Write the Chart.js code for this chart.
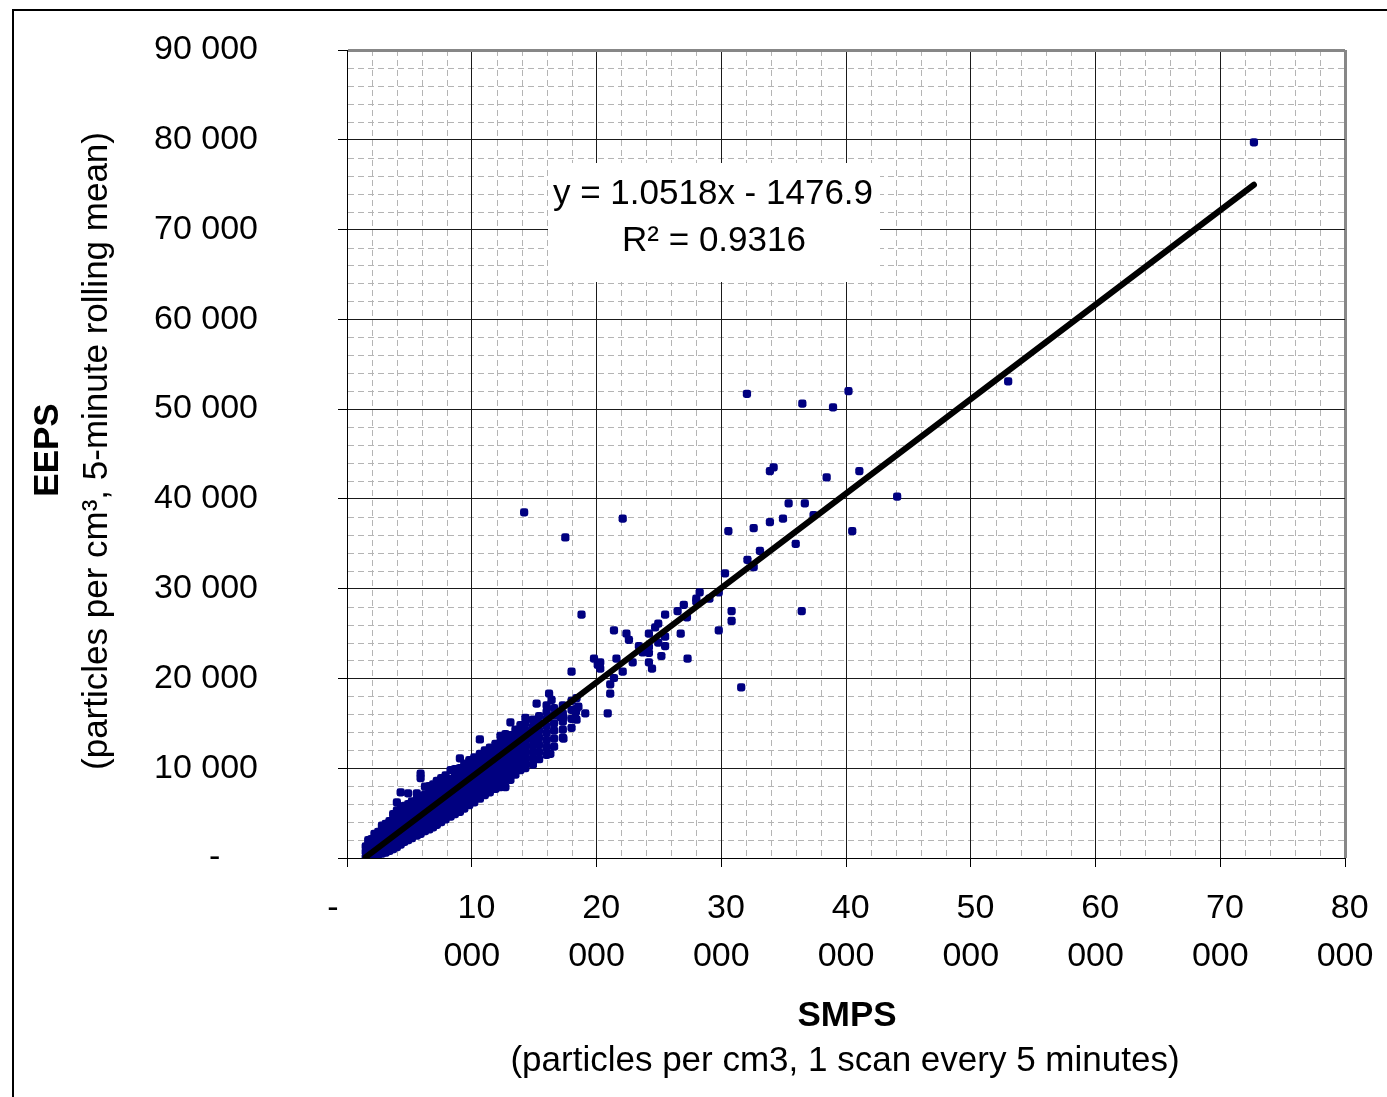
<!DOCTYPE html>
<html>
<head>
<meta charset="utf-8">
<script src="https://cdn.jsdelivr.net/npm/chart.js@4.4.0/dist/chart.umd.min.js"></script>
<style>
  body { margin: 0; background: #fff; }
  #frame { position: absolute; left: 12px; top: 9px; width: 1400px; height: 1100px; border-left: 2px solid #000; border-top: 2px solid #000; }
  #scatter { position: absolute; left: 0; top: 0; }
</style>
</head>
<body>
<div id="frame"></div>
<canvas id="scatter" width="1387" height="1097"></canvas>
<script>
// SMPS vs EEPS number concentration (particles per cm3)
const smps = [
  1500, 1500, 1500,
  1700, 1700, 1700, 1700,
  1950, 1950, 1950, 1950,
  2200, 2200, 2200, 2200, 2200,
  2500, 2500, 2500, 2500, 2500,
  2800, 2800, 2800, 2800, 2800, 2800,
  3100, 3100, 3100, 3100, 3100, 3100,
  3400, 3400, 3400, 3400, 3400, 3400,
  3700, 3700, 3700, 3700, 3700, 3700, 3700,
  4000, 4000, 4000, 4000, 4000, 4000, 4000, 4000,
  4300, 4300, 4300, 4300, 4300, 4300, 4300, 4300,
  4600, 4600, 4600, 4600, 4600, 4600, 4600,
  4900, 4900, 4900, 4900, 4900, 4900, 4900, 4900,
  5200, 5200, 5200, 5200, 5200, 5200, 5200,
  5600, 5600, 5600, 5600, 5600, 5600, 5600, 5600,
  5900, 5900, 5900, 5900, 5900, 5900, 5900, 5900, 5900,
  6250, 6250, 6250, 6250, 6250, 6250, 6250, 6250,
  6600, 6600, 6600, 6600, 6600, 6600, 6600, 6600,
  6900, 6900, 6900, 6900, 6900, 6900, 6900, 6900,
  7200, 7200, 7200, 7200, 7200, 7200, 7200, 7200,
  7550, 7550, 7550, 7550, 7550, 7550, 7550, 7550,
  7900, 7900, 7900, 7900, 7900, 7900, 7900, 7900,
  8300, 8300, 8300, 8300, 8300, 8300, 8300, 8300,
  8650, 8650, 8650, 8650, 8650, 8650, 8650, 8650,
  9050, 9050, 9050, 9050, 9050, 9050, 9050, 9050, 9050,
  9400, 9400, 9400, 9400, 9400, 9400, 9400, 9400,
  9800, 9800, 9800, 9800, 9800, 9800, 9800, 9800,
  10200, 10200, 10200, 10200, 10200, 10200, 10200, 10200,
  10650, 10650, 10650, 10650, 10650, 10650, 10650, 10650, 10650,
  11050, 11050, 11050, 11050, 11050, 11050, 11050, 11050,
  11450, 11450, 11450, 11450, 11450, 11450, 11450, 11450,
  11900, 11900, 11900, 11900, 11900, 11900, 11900, 11900,
  12300, 12300, 12300, 12300, 12300, 12300, 12300, 12300, 12300,
  12700, 12700, 12700, 12700, 12700, 12700, 12700, 12700, 12700,
  13100, 13100, 13100, 13100, 13100, 13100, 13100, 13100, 13100,
  13500, 13500, 13500, 13500, 13500, 13500, 13500, 13500,
  13900, 13900, 13900, 13900, 13900, 13900, 13900, 13900,
  14300, 14300, 14300, 14300, 14300, 14300, 14300, 14300, 14300,
  14900, 14900, 14900, 14900, 14900, 14900, 14900, 14900,
  15400, 15400, 15400, 15400, 15400, 15400, 15400,
  16000, 16000, 16000, 16000, 16000, 16000, 16000, 16000,
  16600, 16600, 16600, 16600, 16600, 16600,
  17300, 17300, 17300, 17300, 17300,
  18000, 18000, 18000, 18000,
  18400, 18400, 18400,
  // scattered readings
  15200, 16200, 16400, 18550, 18000, 18800, 14200,
  17500, 22100, 19800, 20100, 20300, 20300, 20900,
  21100, 21100, 21400, 21400, 21600, 22100, 22400,
  22600, 22900, 23400, 23700, 24200, 24200, 24200,
  24200, 24450, 24700, 24950, 24950, 25200, 25500,
  25500, 25500, 26500, 26750, 27000, 27250, 27300,
  28000, 28000, 28270, 29050, 29800, 29800, 30300,
  30830, 30830, 31600, 30570, 32100, 32600, 32600,
  33100, 33900, 33900, 34200, 34950, 35400, 35970,
  36450, 36700, 37400, 38450, 40500, 41070, 44100,
  32060, 36500, 38960, 40200, 53000, 72700,
  17100, 17350, 18300, 19100, 18350, 16300, 17350
];
const eeps = [
  100, 700, 1300,
  200, 800, 1400, 2000,
  300, 900, 1500, 2100,
  300, 900, 1500, 2100, 2700,
  400, 1000, 1600, 2200, 2900,
  500, 1100, 1700, 2300, 3000, 3600,
  600, 1200, 1800, 2400, 3100, 3800,
  800, 1400, 2000, 2700, 3400, 4100,
  1000, 1600, 2200, 2900, 3600, 4300, 4900,
  1200, 1800, 2400, 3100, 3800, 4500, 5300, 6200,
  1500, 2100, 2700, 3400, 4100, 4800, 5500, 7300,
  1800, 2400, 3000, 3700, 4400, 5100, 5800,
  2000, 2600, 3200, 3900, 4600, 5300, 6000, 7200,
  2200, 2800, 3500, 4200, 4900, 5600, 6300,
  2500, 3100, 3800, 4500, 5200, 5900, 6600, 7200,
  2700, 3300, 4000, 4700, 5400, 6100, 6900, 8900, 9400,
  3000, 3600, 4300, 5000, 5700, 6400, 7100, 7950,
  3200, 3900, 4600, 5300, 6000, 6700, 7400, 8000,
  3400, 4100, 4800, 5500, 6200, 6900, 7600, 8200,
  3700, 4400, 5100, 5800, 6500, 7200, 7900, 8600,
  4000, 4700, 5400, 6100, 6800, 7500, 8200, 8900,
  4300, 5000, 5700, 6400, 7100, 7800, 8500, 9200,
  4600, 5300, 6000, 6700, 7400, 8100, 8800, 9800,
  4900, 5600, 6300, 7000, 7700, 8400, 9100, 9900,
  5150, 5800, 6500, 7200, 7900, 8600, 9300, 10000, 11100,
  5500, 6200, 6900, 7600, 8300, 9000, 9700, 10500,
  5900, 6600, 7300, 8000, 8700, 9400, 10100, 10900,
  6200, 6900, 7600, 8300, 9000, 9700, 10400, 11200,
  6600, 7300, 8000, 8700, 9400, 10100, 10800, 11600, 13200,
  7000, 7700, 8400, 9100, 9800, 10500, 11200, 12000,
  7300, 8000, 8700, 9400, 10100, 10800, 11500, 12300,
  7700, 8400, 9100, 9800, 10500, 11200, 11900, 12700,
  7900, 8600, 9300, 10000, 10700, 11400, 12100, 12900, 13600,
  7900, 8700, 9500, 10200, 10900, 11600, 12300, 13000, 13800,
  8700, 9400, 10100, 10800, 11500, 12200, 12900, 13700, 15100,
  9300, 10000, 10700, 11400, 12100, 12800, 13500, 14300,
  9800, 10500, 11200, 11900, 12600, 13300, 14000, 14800,
  10000, 10700, 11400, 12100, 12800, 13500, 14200, 15000, 15600,
  10400, 11100, 11800, 12500, 13200, 13900, 14600, 15400,
  11000, 11800, 12600, 13400, 14200, 15000, 15800,
  11500, 12300, 13100, 13900, 14700, 15500, 16300, 17000,
  12400, 13300, 14200, 15000, 15900, 16700,
  13400, 14300, 15200, 16100, 17000,
  14500, 15500, 16500, 17500,
  15400, 16600, 17800,
  // scattered readings
  17200, 18300, 17600, 16850, 20750, 27100, 38500,
  35700, 37800, 22200, 21500, 21800, 21100, 16100,
  19350, 18300, 20050, 25350, 22200, 20750, 25000,
  24300, 21800, 23600, 22900, 25000, 23550, 22850,
  21800, 21100, 25700, 26100, 24000, 22500, 27100,
  24650, 23600, 27500, 25000, 28200, 26800, 22200,
  28900, 28550, 29600, 28900, 29600, 25350, 31700,
  27500, 26400, 19000, 36400, 33200, 32400, 36750,
  34200, 37400, 43100, 43500, 37800, 39500, 35000,
  27500, 39500, 38200, 42400, 36400, 43100, 40250,
  51700, 50600, 50200, 52000, 53100, 79700,
  15700, 15700, 15600, 16100, 16300, 11600, 13300
];

// linear fit reported on the chart
const slope = 1.0518;
const intercept = -1476.9;
const rSquared = 0.9316;

const xMax = 80000;
const yMax = 90000;
const majorStep = 10000;
const minorStep = 2000;

const points = smps.map((x, i) => ({ x: x, y: eeps[i] }));
const fitX = [Math.min(...smps), Math.max(...smps)];
const fitLine = fitX.map(x => ({ x: x, y: slope * x + intercept }));

// "10 000" style numbers, a dash for zero
function spaced(v) {
  return String(v).replace(/\B(?=(\d{3})+(?!\d))/g, " ");
}

const font = "'Liberation Sans', Arial, sans-serif";
Chart.defaults.font.family = font;
Chart.defaults.font.size = 34;
Chart.defaults.color = "#000";

// dashed minor grid every 2 000, under the solid major lines
const minorGrid = {
  id: "minorGrid",
  beforeDraw(chart) {
    const { ctx, chartArea: a, scales } = chart;
    ctx.save();
    ctx.strokeStyle = "#b4b4b4";
    ctx.lineWidth = 1;
    ctx.setLineDash([6, 4]);
    for (let v = minorStep; v < xMax; v += minorStep) {
      if (v % majorStep === 0) continue;
      const px = Math.round(scales.x.getPixelForValue(v)) + 0.5;
      ctx.beginPath();
      ctx.moveTo(px, a.top);
      ctx.lineTo(px, a.bottom);
      ctx.stroke();
    }
    for (let v = minorStep; v < yMax; v += minorStep) {
      if (v % majorStep === 0) continue;
      const py = Math.round(scales.y.getPixelForValue(v)) + 0.5;
      ctx.beginPath();
      ctx.moveTo(a.left + 1, py);
      ctx.lineTo(a.right, py);
      ctx.stroke();
    }
    ctx.restore();
  }
};

// white box with the fit equation
const fitLabel = {
  id: "fitLabel",
  beforeDatasetsDraw(chart) {
    const ctx = chart.ctx;
    ctx.save();
    ctx.fillStyle = "#fff";
    ctx.fillRect(548, 163, 332, 119);
    ctx.fillStyle = "#000";
    ctx.font = "35px " + font;
    ctx.textAlign = "center";
    ctx.textBaseline = "middle";
    ctx.fillText("y = " + slope + "x - " + Math.abs(intercept), 713, 194);
    ctx.fillText("R\u00b2 = " + rSquared, 714, 241);
    ctx.restore();
  }
};

// axis titles: bold name, plain units line underneath
const axisTitles = {
  id: "axisTitles",
  afterDraw(chart) {
    const ctx = chart.ctx;
    const a = chart.chartArea;
    const cx = (a.left + a.right) / 2;
    const cy = (a.top + a.bottom) / 2;
    ctx.save();
    ctx.fillStyle = "#000";
    ctx.textAlign = "center";
    ctx.textBaseline = "middle";
    ctx.font = "bold 35px " + font;
    ctx.fillText("SMPS", cx + 1, 1016);
    ctx.font = "35px " + font;
    ctx.fillText("(particles per cm3, 1 scan every 5 minutes)", cx - 1, 1061);
    ctx.translate(0, cy);
    ctx.rotate(-Math.PI / 2);
    ctx.font = "bold 35px " + font;
    ctx.fillText("EEPS", 4, 48);
    ctx.font = "35px " + font;
    ctx.fillText("(particles per cm\u00b3, 5-minute rolling mean)", 3, 97);
    ctx.restore();
  }
};

new Chart(document.getElementById("scatter"), {
  type: "scatter",
  data: {
    datasets: [
      {
        type: "line",
        data: fitLine,
        borderColor: "#000",
        borderWidth: 6,
        borderCapStyle: "round",
        pointRadius: 0,
        order: 1
      },
      {
        data: points,
        backgroundColor: "#000080",
        borderColor: "#000080",
        pointStyle: "rectRounded",
        pointRadius: 4.8,
        pointBorderWidth: 0,
        order: 2
      }
    ]
  },
  options: {
    responsive: false,
    animation: false,
    devicePixelRatio: 1,
    layout: { padding: { top: 50, right: 42, left: 0, bottom: 0 } },
    plugins: {
      legend: { display: false },
      tooltip: { enabled: false }
    },
    scales: {
      x: {
        type: "linear",
        min: 0,
        max: xMax,
        afterFit: s => {
          s.height = 239;
          s.paddingLeft = 0;
          s.paddingRight = 0;
        },
        border: { color: "#000", width: 1 },
        grid: {
          color: c => (c.tick.value === xMax ? "#878787" : "#1a1a1a"),
          lineWidth: c => (c.tick.value === xMax ? 3 : 1),
          tickColor: "#000",
          tickWidth: 1,
          tickLength: 9
        },
        ticks: {
          stepSize: majorStep,
          padding: 18,
          maxRotation: 0,
          autoSkip: false,
          font: { size: 34, lineHeight: 1.41 },
          callback: v => {
            if (v === 0) return "-   ";
            const parts = spaced(v).split(" ");
            return [" " + parts[0], parts[1]];
          }
        }
      },
      y: {
        type: "linear",
        min: 0,
        max: yMax,
        afterFit: s => {
          s.width = 347;
          s.paddingTop = 0;
          s.paddingBottom = 0;
        },
        border: { color: "#000", width: 1 },
        grid: {
          color: c => (c.tick.value === yMax ? "#878787" : "#1a1a1a"),
          lineWidth: c => (c.tick.value === yMax ? 3 : 1),
          tickColor: "#000",
          tickWidth: 1,
          tickLength: 9
        },
        ticks: {
          stepSize: majorStep,
          padding: 80,
          font: { size: 34 },
          callback: v => (v === 0 ? "-    " : spaced(v))
        }
      }
    }
  },
  plugins: [minorGrid, fitLabel, axisTitles]
});
</script>
</body>
</html>
